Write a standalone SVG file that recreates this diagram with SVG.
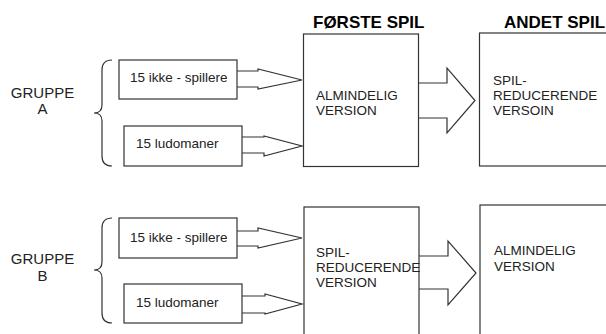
<svg xmlns="http://www.w3.org/2000/svg" width="606" height="334" viewBox="0 0 606 334">
<style>
.box{fill:#fff;stroke:#333;stroke-width:1.2}
.arr{fill:#fff;stroke:#333;stroke-width:1.2;stroke-linejoin:miter}
.br{fill:none;stroke:#333;stroke-width:1.2}
text{font-family:"Liberation Sans",Arial,sans-serif;font-size:13.5px;fill:#222}
.title{font-size:17px;font-weight:bold;fill:#000}
.grp{font-size:15px;text-anchor:middle}
</style>
<rect width="606" height="334" fill="#fff"/>
<text class="title" x="313" y="28">FØRSTE SPIL</text>
<text class="title" x="504" y="28">ANDET SPIL</text>

<g id="gruppeA">
<text class="grp" x="42.5" y="98">GRUPPE</text>
<text class="grp" x="42.5" y="114">A</text>
<path class="br" d="M112,60 Q102,60 102,70 L102,105 Q102,113 94,113 Q102,113 102,121 L102,156 Q102,166 112,166"/>
</g>
<g id="gruppeB">
<text class="grp" x="42.5" y="264">GRUPPE</text>
<text class="grp" x="42.5" y="281">B</text>
<path class="br" d="M112,218 Q102,218 102,228 L102,262 Q102,270 94,270 Q102,270 102,278 L102,313 Q102,323 112,323"/>
</g>

<g id="connectors">
<path class="arr" d="M237,71 H258 V69 L302,80 L258,89 V87 H237"/>
<path class="arr" d="M242,137 H264 V136 L302,146 L264,156 V153 H242"/>
<path class="arr" d="M237,231 H258 V228 L302,238 L258,248 V246 H237"/>
<path class="arr" d="M242,296 H265 V294 L302,304 L265,314 V313 H242"/>
<path class="arr" d="M418,83 H447 V68 L475,100.5 L447,133 V118 H418"/>
<path class="arr" d="M419,256 H448 V241 L476,273 L448,305 V289 H419"/>
</g>

<g id="a_ikke">
<rect class="box" x="119" y="60" width="118" height="39"/>
<text x="130" y="82">15 ikke - spillere</text>
</g>
<g id="a_ludo">
<rect class="box" x="124" y="126" width="118" height="40"/>
<text x="136" y="148">15 ludomaner</text>
</g>
<g id="b_ikke">
<rect class="box" x="119" y="218" width="118" height="40"/>
<text x="130" y="242">15 ikke - spillere</text>
</g>
<g id="b_ludo">
<rect class="box" x="124" y="284" width="118" height="39"/>
<text x="136" y="307">15 ludomaner</text>
</g>

<g id="a_foerste">
<rect class="box" x="303.5" y="34" width="115" height="132.5"/>
<text x="316" y="100">ALMINDELIG</text>
<text x="316" y="115">VERSION</text>
</g>
<g id="a_andet">
<rect class="box" x="479.5" y="33" width="200" height="133"/>
<text x="493" y="85">SPIL-</text>
<text x="493" y="100">REDUCERENDE</text>
<text x="493" y="115">VERSOIN</text>
</g>
<g id="b_foerste">
<rect class="box" x="304" y="207" width="115" height="200"/>
<text x="316" y="257">SPIL-</text>
<text x="316" y="272">REDUCERENDE</text>
<text x="316" y="287">VERSION</text>
</g>
<g id="b_andet">
<rect class="box" x="480" y="205" width="200" height="200"/>
<text x="494" y="255">ALMINDELIG</text>
<text x="494" y="271">VERSION</text>
</g>
</svg>
